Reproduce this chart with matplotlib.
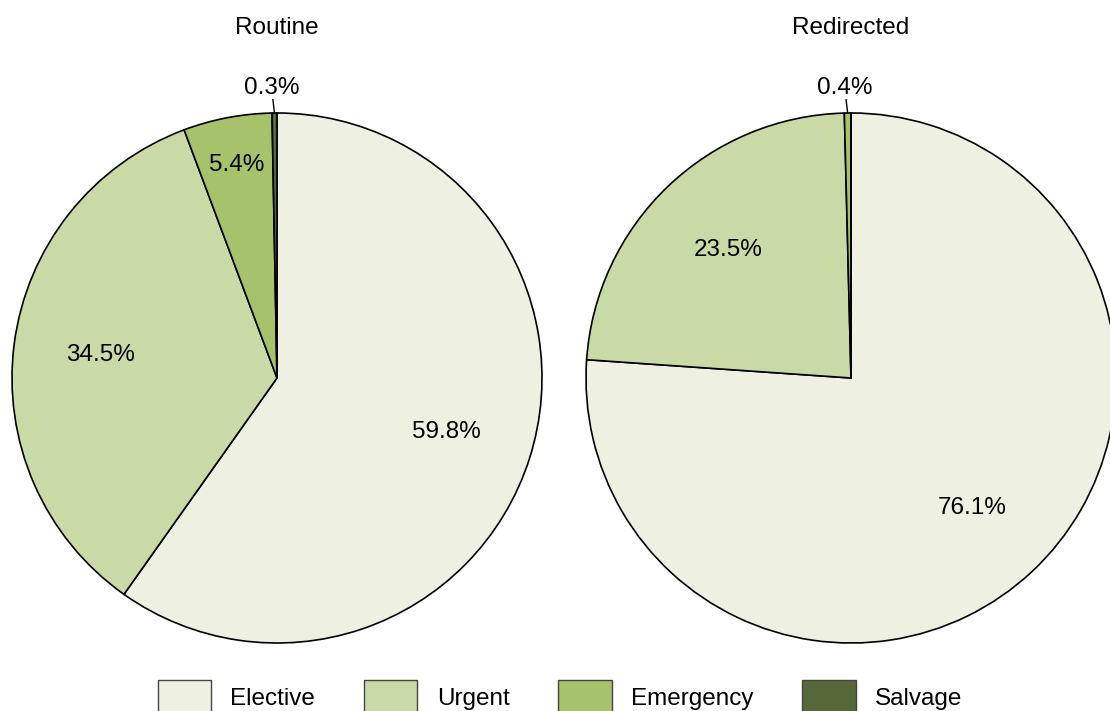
import numpy as np
import matplotlib.pyplot as plt
from matplotlib.patches import Patch

# ── data ──────────────────────────────────────────────
categories = ["Elective", "Urgent", "Emergency", "Salvage"]
routine = [59.8, 34.5, 5.4, 0.3]
redirected = [76.1, 23.5, 0.4, 0.0]
titles = ["Routine", "Redirected"]
colors = ["#EEF1E1", "#C9DAA6", "#A6C26B", "#56683A"]

plt.rcParams["font.family"] = ["Liberation Sans", "DejaVu Sans"]
FS = 17.5

W, H = 1110, 711
fig = plt.figure(figsize=(W / 100, H / 100), dpi=100)

R = 265  # pie radius in px
centers = [(277, 378), (851, 378)]


def draw_pie(ax, values, title):
    wedges, _ = ax.pie(values, colors=colors, startangle=90, counterclock=False,
                       radius=1.0, wedgeprops=dict(edgecolor="black", linewidth=1.2))
    for w, v in zip(wedges, values):
        if v <= 0:
            continue
        ang = np.deg2rad((w.theta1 + w.theta2) / 2)
        if v >= 10:
            r = 0.67
            ax.text(r * np.cos(ang), r * np.sin(ang), f"{v:.1f}%", ha="center",
                    va="center", fontsize=FS)
        elif v >= 2:
            r = 0.82
            ax.text(r * np.cos(ang), r * np.sin(ang), f"{v:.1f}%", ha="center",
                    va="center", fontsize=FS)
        else:
            # small slice: label outside with a leader line
            x0, y0 = np.cos(ang), np.sin(ang)
            ax.plot([x0, x0 - 0.006], [y0, y0 + 0.05], color="black", lw=1,
                    clip_on=False)
            ax.text(x0 - 0.01, 1.095, f"{v:.1f}%", ha="center", va="center",
                    fontsize=FS)
    ax.set_xlim(-1, 1)
    ax.set_ylim(-1, 1)
    ax.set_aspect("equal")
    ax.axis("off")
    ax.text(0.5, (643 - 28) / (2 * R), title, transform=ax.transAxes,
            ha="center", va="center", fontsize=FS)


for (cx, cy), vals, t in zip(centers, [routine, redirected], titles):
    ax = fig.add_axes([(cx - R) / W, (H - cy - R) / H, 2 * R / W, 2 * R / H])
    draw_pie(ax, vals, t)
    for txt in ax.texts:
        txt.set_clip_on(False)

handles = [Patch(facecolor=c, edgecolor="#444444", linewidth=1) for c in colors]
fig.legend(handles, categories, loc="center", bbox_to_anchor=(560 / W, (H - 697) / H),
           ncol=4, frameon=False, fontsize=FS, handlelength=2.2, handleheight=1.75,
           handletextpad=0.8, columnspacing=2.0)

fig.savefig("out.png", dpi=100)
